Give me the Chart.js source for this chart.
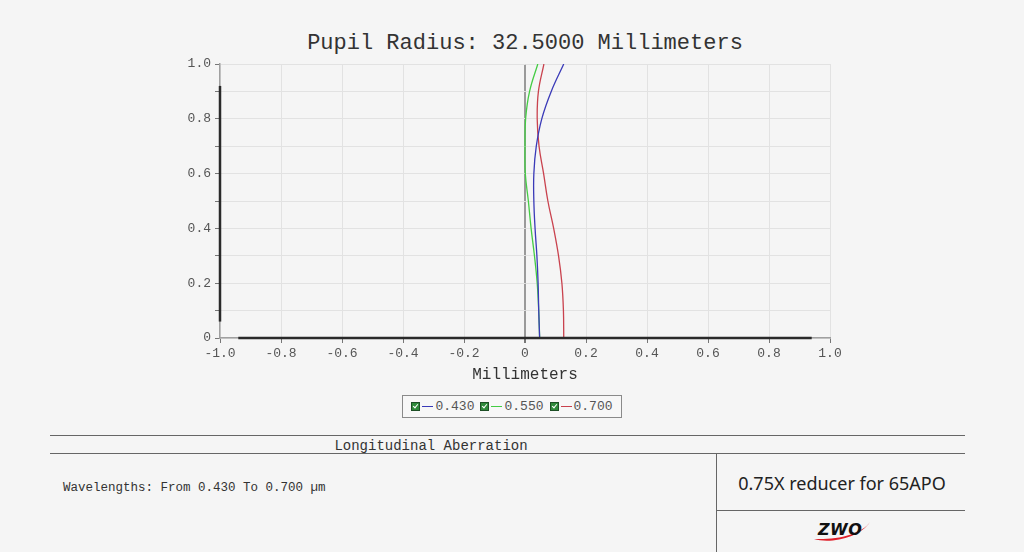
<!DOCTYPE html>
<html lang="en">
<head>
    <meta charset="UTF-8">
    <title>Longitudinal Aberration</title>
    <script src="https://cdn.jsdelivr.net/npm/chart.js"></script>
    <style>
        html, body { margin: 0; padding: 0; background: #f5f5f5; }
        body { width: 1024px; height: 552px; position: relative; overflow: hidden; font-family: "Liberation Mono", monospace; color: #333; }
        #chartBox { position: absolute; left: 0; top: 0; width: 1024px; height: 400px; }
        #title { position: absolute; left: 0; width: 1050px; top: 31px; text-align: center; font-size: 22px; color: #333; }
        #legend { position: absolute; left: 402px; top: 395px; width: 218px; height: 21px; border: 1px solid #8a8a8a; background: #f7f7f7;
                  display: flex; align-items: center; justify-content: center; font-size: 13px; color: #555; }
        .item { display: flex; align-items: center; margin: 0 3px; }
        .chk { width: 7px; height: 7px; background: #2e8a3a; border: 1px solid #1d4e25; position: relative; }
        .chk::after { content: ""; position: absolute; left: 2px; top: 0px; width: 2px; height: 4px; border: solid #fff; border-width: 0 1.5px 1.5px 0; transform: rotate(40deg); }
        .dash { width: 11px; height: 1px; margin: 0 2px 0 2px; }
        .hline { position: absolute; height: 1px; background: #666; }
        .vline { position: absolute; width: 1px; background: #666; }
        #caption { position: absolute; left: 50px; width: 762px; top: 438px; text-align: center; font-size: 14px; color: #333; }
        #waves { position: absolute; left: 63px; top: 481px; font-size: 12.5px; color: #333; }
        #product { position: absolute; left: 716px; width: 252px; top: 471px; text-align: center; font-family: "Noto Sans", sans-serif; font-size: 18px; color: #222; }
        #logo { position: absolute; left: 810px; top: 516px; }
    </style>
</head>
<body>
    <div id="title">Pupil Radius: 32.5000 Millimeters</div>
    <div id="chartBox"><canvas id="aberrationChart" width="1024" height="400"></canvas></div>
    <div id="legend"></div>

    <div class="hline" style="left:50px; width:915px; top:435px;"></div>
    <div id="caption">Longitudinal Aberration</div>
    <div class="hline" style="left:50px; width:915px; top:453px;"></div>
    <div class="vline" style="left:716px; top:453px; height:99px;"></div>
    <div class="hline" style="left:716px; width:249px; top:510px;"></div>
    <div id="waves">Wavelengths: From 0.430 To 0.700 µm</div>
    <div id="product">0.75X reducer for 65APO</div>
    <svg id="logo" width="66" height="28" viewBox="0 0 66 28">
        <path d="M4 23 C 20 28, 50 22, 60 6 C 52 18, 28 24, 4 23 Z" fill="#e0202a"/>
        <text x="8" y="19" font-family="DejaVu Sans" font-weight="bold" font-style="italic" font-size="16" fill="#111" letter-spacing="0.5">ZWO</text>
    </svg>

    <script>
        // relative pupil height (y) and longitudinal aberration in mm (x)
        const pupil = [0, 0.1, 0.2, 0.3, 0.4, 0.5, 0.6, 0.7, 0.8, 0.9, 1.0];
        const wave430 = [0.048, 0.045, 0.043, 0.039, 0.033, 0.029, 0.029, 0.037, 0.055, 0.086, 0.127];
        const wave550 = [0.048, 0.045, 0.040, 0.031, 0.020, 0.011, 0.001, 0.000, 0.002, 0.015, 0.042];
        const wave700 = [0.127, 0.126, 0.121, 0.110, 0.094, 0.075, 0.061, 0.046, 0.040, 0.044, 0.062];

        const seriesLabels = ['0.430', '0.550', '0.700'];
        const seriesColors = ['#3a3ab8', '#44cc44', '#c9424e'];

        const xTickLabels = ['-1.0', '-0.8', '-0.6', '-0.4', '-0.2', '0', '0.2', '0.4', '0.6', '0.8', '1.0'];
        const yTickLabels = ['0', '', '0.2', '', '0.4', '', '0.6', '', '0.8', '', '1.0'];

        // legend built from the series arrays
        const legend = document.getElementById('legend');
        seriesLabels.forEach((lab, i) => {
            const it = document.createElement('div');
            it.className = 'item';
            it.innerHTML = `<span class="chk"></span><span class="dash" style="background:${seriesColors[i]}"></span><span>${lab}</span>`;
            legend.appendChild(it);
        });

        // the dark part of each axis line stops short of the ends, like the original plot
        const axisSegments = {
            id: 'axisSegments',
            afterDatasetsDraw(chart) {
                const { ctx, scales: { x, y } } = chart;
                ctx.save();
                ctx.strokeStyle = '#2a2a2a';
                ctx.lineWidth = 2.5;
                ctx.beginPath();
                ctx.moveTo(x.getPixelForValue(-0.94), y.bottom);
                ctx.lineTo(x.getPixelForValue(0.94), y.bottom);
                ctx.stroke();
                ctx.beginPath();
                ctx.moveTo(x.left, y.getPixelForValue(0.06));
                ctx.lineTo(x.left, y.getPixelForValue(0.92));
                ctx.stroke();
                ctx.restore();
            }
        };

        const series = [wave430, wave550, wave700];
        const tickFont = { family: 'Liberation Mono', size: 13 };

        const chart = new Chart(document.getElementById('aberrationChart'), {
            type: 'scatter',
            data: {
                datasets: series.map((vals, i) => ({
                    label: seriesLabels[i],
                    data: pupil.map((y, j) => ({ x: vals[j], y: y })),
                    showLine: true,
                    borderColor: seriesColors[i],
                    borderWidth: 1.3,
                    pointRadius: 0,
                    tension: 0.4
                }))
            },
            options: {
                responsive: false,
                animation: false,
                layout: { padding: { left: 170, top: 60, right: 180, bottom: 10 } },
                plugins: { legend: { display: false }, tooltip: { enabled: false } },
                scales: {
                    x: {
                        type: 'linear', min: -1, max: 1,
                        ticks: { stepSize: 0.2, color: '#555', font: tickFont, padding: 3, maxRotation: 0,
                                 callback: (v, i) => xTickLabels[i] },
                        grid: {
                            color: ctx => (ctx.tick && Math.abs(ctx.tick.value) < 1e-9) ? '#9a9a9a' : '#e2e2e2',
                            lineWidth: ctx => (ctx.tick && Math.abs(ctx.tick.value) < 1e-9) ? 2 : 1,
                            tickColor: '#777', tickLength: 5
                        },
                        border: { color: '#a0a0a0', width: 1.5 },
                        title: { display: true, text: 'Millimeters', color: '#333',
                                 font: { family: 'Liberation Mono', size: 16 }, padding: { top: 1 } }
                    },
                    y: {
                        type: 'linear', min: 0, max: 1,
                        ticks: { stepSize: 0.1, color: '#555', font: tickFont, padding: 4, autoSkip: false,
                                 callback: (v, i) => yTickLabels[i] },
                        grid: { color: '#e2e2e2', tickColor: '#777', tickLength: 5 },
                        border: { color: '#a0a0a0', width: 1.5 }
                    }
                }
            },
            plugins: [axisSegments]
        });

        // nudge the padding so the plot area sits where the reference has it
        const target = { left: 220, top: 64, right: 830, bottom: 338 };
        const ca = chart.chartArea;
        const p = chart.options.layout.padding;
        p.left += target.left - ca.left;
        p.top += target.top - ca.top;
        p.right += ca.right - target.right;
        p.bottom += ca.bottom - target.bottom;
        chart.update('none');
    </script>
</body>
</html>
